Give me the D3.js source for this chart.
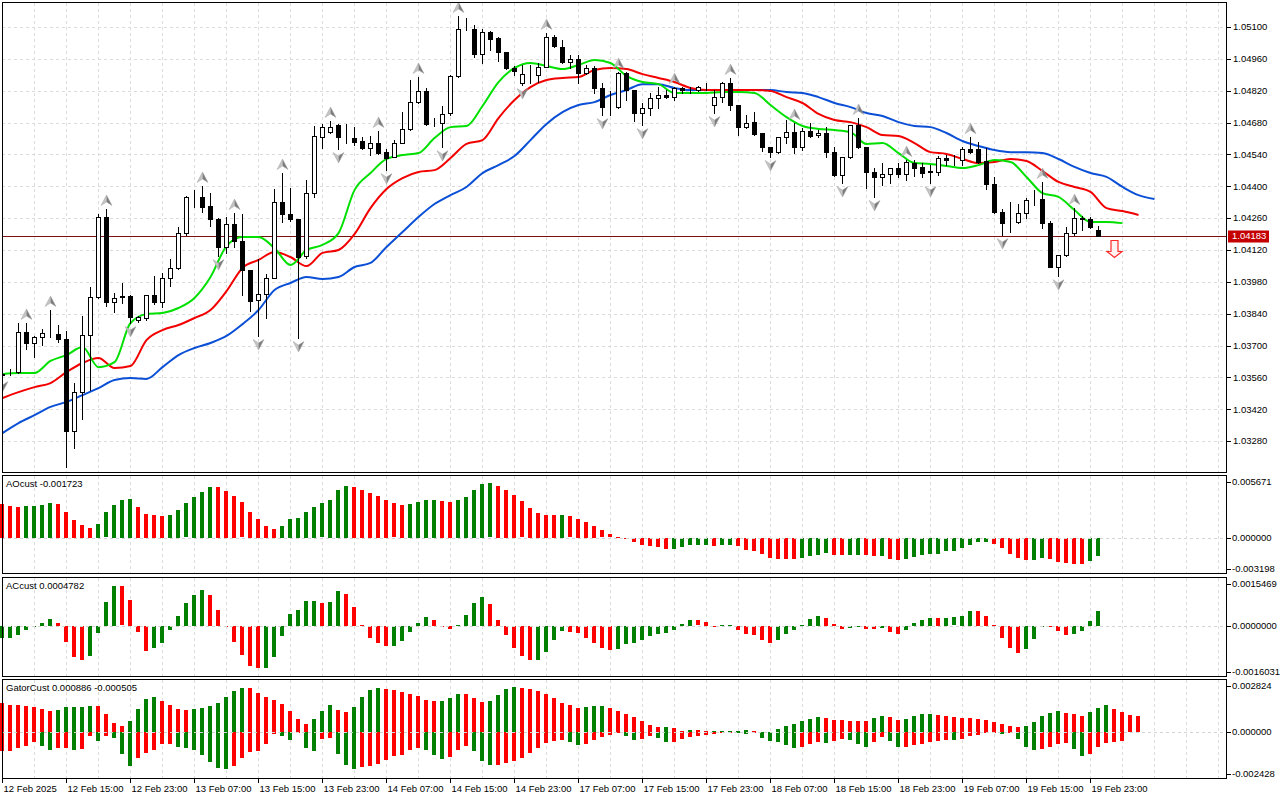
<!DOCTYPE html>
<html>
<head>
<meta charset="utf-8">
<script src="https://cdn.jsdelivr.net/npm/d3@7"></script>
<style>
  body { margin: 0; background: #fff; }
  svg { display: block; font-family: "Liberation Sans", Arial, sans-serif; font-size: 9.5px; }
</style>
</head>
<body>
<div id="chart"></div>
<script>
// ---- price data (H1 bars, 12 Feb 07:00 .. 20 Feb 00:00) ----
const opens = [1.03570,1.03580,1.03583,1.03759,1.03711,1.03737,1.03755,1.03750,1.03728,1.03324,
1.03495,1.03746,1.03913,1.04265,1.03891,1.03913,1.03918,1.03812,1.03821,1.03922,
1.03891,1.03997,1.04041,1.04194,1.04353,1.04353,1.04313,1.04256,1.04133,1.04234,
1.04159,1.04032,1.03900,1.03926,1.03997,1.04331,1.04278,1.04256,1.04093,1.04370,
1.04616,1.04638,1.04669,1.04616,1.04612,1.04599,1.04568,1.04590,1.04550,1.04529,
1.04590,1.04652,1.04770,1.04819,1.04678,1.04678,1.04722,1.04885,1.05091,1.05091,
1.04981,1.05078,1.05052,1.04990,1.04920,1.04854,1.04889,1.04889,1.04924,1.05056,
1.05012,1.04946,1.04959,1.04898,1.04920,1.04832,1.04748,1.04748,1.04898,1.04823,
1.04722,1.04744,1.04788,1.04801,1.04792,1.04832,1.04823,1.04823,1.04836,1.04757,
1.04792,1.04854,1.04757,1.04660,1.04682,1.04634,1.04572,1.04550,1.04616,1.04638,
1.04572,1.04643,1.04625,1.04634,1.04550,1.04449,1.04529,1.04669,1.04572,1.04463,
1.04441,1.04454,1.04480,1.04454,1.04502,1.04485,1.04463,1.04463,1.04524,1.04515,
1.04515,1.04564,1.04564,1.04511,1.04410,1.04287,1.04243,1.04243,1.04282,1.04344,
1.04344,1.04238,1.04045,1.04098,1.04194,1.04256,1.04256,1.04208];
const highs = [1.03583,1.03596,1.03799,1.03799,1.03742,1.03772,1.03856,1.03790,1.03764,1.03535,
1.03830,1.03957,1.04278,1.04300,1.03931,1.03975,1.03922,1.03830,1.03922,1.04005,
1.04019,1.04080,1.04221,1.04357,1.04383,1.04401,1.04370,1.04260,1.04265,1.04282,
1.04278,1.04032,1.04080,1.04014,1.04388,1.04458,1.04392,1.04256,1.04427,1.04665,
1.04674,1.04687,1.04674,1.04674,1.04660,1.04616,1.04621,1.04643,1.04564,1.04603,
1.04726,1.04867,1.04880,1.04832,1.04700,1.04753,1.04889,1.05148,1.05140,1.05109,
1.05091,1.05082,1.05056,1.04990,1.04929,1.04933,1.04933,1.04942,1.05074,1.05065,
1.05043,1.04977,1.04977,1.04933,1.04929,1.04854,1.04819,1.04902,1.04902,1.04823,
1.04766,1.04810,1.04836,1.04823,1.04836,1.04836,1.04836,1.04841,1.04854,1.04823,
1.04858,1.04876,1.04757,1.04713,1.04726,1.04634,1.04572,1.04616,1.04691,1.04678,
1.04656,1.04678,1.04647,1.04660,1.04572,1.04529,1.04669,1.04700,1.04572,1.04480,
1.04502,1.04480,1.04502,1.04515,1.04515,1.04502,1.04493,1.04533,1.04537,1.04537,
1.04572,1.04616,1.04594,1.04568,1.04441,1.04300,1.04331,1.04322,1.04348,1.04383,
1.04419,1.04247,1.04098,1.04221,1.04304,1.04269,1.04265,1.04225];
const lows = [1.03557,1.03570,1.03579,1.03685,1.03649,1.03702,1.03737,1.03715,1.03166,1.03249,
1.03377,1.03504,1.03909,1.03874,1.03847,1.03887,1.03799,1.03803,1.03812,1.03882,
1.03869,1.03961,1.04036,1.04186,1.04309,1.04287,1.04225,1.04093,1.04107,1.04133,
1.03922,1.03852,1.03742,1.03821,1.03997,1.04243,1.04247,1.03733,1.04085,1.04353,
1.04568,1.04634,1.04564,1.04590,1.04581,1.04564,1.04537,1.04542,1.04471,1.04529,
1.04590,1.04647,1.04766,1.04669,1.04665,1.04572,1.04713,1.04880,1.05087,1.04968,
1.04942,1.04999,1.04951,1.04915,1.04889,1.04845,1.04854,1.04858,1.04924,1.05012,
1.04942,1.04920,1.04854,1.04893,1.04810,1.04713,1.04713,1.04744,1.04779,1.04687,
1.04669,1.04713,1.04744,1.04788,1.04779,1.04810,1.04810,1.04819,1.04823,1.04722,
1.04770,1.04735,1.04625,1.04656,1.04625,1.04555,1.04529,1.04546,1.04590,1.04546,
1.04559,1.04616,1.04616,1.04529,1.04445,1.04414,1.04524,1.04568,1.04392,1.04353,
1.04405,1.04414,1.04441,1.04427,1.04445,1.04441,1.04414,1.04449,1.04493,1.04493,
1.04493,1.04546,1.04502,1.04388,1.04282,1.04186,1.04199,1.04238,1.04260,1.04318,
1.04216,1.04045,1.04005,1.04093,1.04186,1.04208,1.04216,1.04181];
const closes = [1.03575,1.03581,1.03759,1.03711,1.03737,1.03755,1.03757,1.03728,1.03324,1.03495,
1.03746,1.03913,1.04265,1.03891,1.03909,1.03916,1.03825,1.03825,1.03922,1.03891,
1.03997,1.04041,1.04194,1.04353,1.04355,1.04309,1.04256,1.04133,1.04234,1.04159,
1.04032,1.03896,1.03926,1.03997,1.04331,1.04278,1.04256,1.04089,1.04370,1.04621,
1.04660,1.04660,1.04616,1.04618,1.04594,1.04568,1.04590,1.04546,1.04524,1.04590,
1.04652,1.04770,1.04819,1.04674,1.04680,1.04718,1.04885,1.05091,1.05093,1.04981,
1.05078,1.05047,1.04990,1.04920,1.04907,1.04893,1.04887,1.04924,1.05056,1.05016,
1.04946,1.04959,1.04898,1.04920,1.04832,1.04748,1.04750,1.04898,1.04823,1.04722,
1.04744,1.04788,1.04801,1.04792,1.04832,1.04823,1.04825,1.04836,1.04838,1.04792,
1.04854,1.04757,1.04660,1.04678,1.04630,1.04572,1.04550,1.04616,1.04638,1.04572,
1.04643,1.04621,1.04634,1.04550,1.04449,1.04529,1.04669,1.04572,1.04463,1.04441,
1.04454,1.04480,1.04454,1.04507,1.04480,1.04458,1.04465,1.04524,1.04515,1.04517,
1.04564,1.04550,1.04507,1.04410,1.04287,1.04238,1.04245,1.04282,1.04339,1.04346,
1.04238,1.04045,1.04098,1.04194,1.04260,1.04260,1.04221,1.04183];

// alligator lines, read every second bar (lips +3, teeth +5, jaw +8 bars shifted)
const lips = [1.03575,1.03579,1.03579,1.03632,1.03658,1.03693,1.03605,1.03627,1.03799,1.03838,
1.03843,1.03865,1.03909,1.04001,1.04137,1.04177,1.04177,1.04128,1.04054,1.04120,
1.04142,1.04194,1.04383,1.04458,1.04520,1.04537,1.04546,1.04612,1.04660,1.04665,
1.04753,1.04858,1.04920,1.04942,1.04929,1.04915,1.04933,1.04955,1.04942,1.04885,
1.04858,1.04849,1.04810,1.04810,1.04810,1.04814,1.04814,1.04810,1.04757,1.04704,
1.04665,1.04652,1.04647,1.04638,1.04586,1.04590,1.04546,1.04502,1.04498,1.04489,
1.04480,1.04493,1.04515,1.04507,1.04441,1.04370,1.04353,1.04296,1.04243,1.04243,
1.04238];
const teeth = [1.03469,1.03495,1.03517,1.03535,1.03583,1.03623,1.03645,1.03601,1.03610,1.03724,
1.03768,1.03790,1.03821,1.03856,1.03939,1.04041,1.04076,1.04111,1.04089,1.04049,
1.04107,1.04120,1.04190,1.04304,1.04388,1.04436,1.04463,1.04471,1.04524,1.04586,
1.04603,1.04700,1.04779,1.04836,1.04867,1.04876,1.04880,1.04911,1.04920,1.04915,
1.04893,1.04876,1.04858,1.04832,1.04823,1.04823,1.04823,1.04823,1.04819,1.04792,
1.04766,1.04718,1.04691,1.04682,1.04660,1.04625,1.04621,1.04590,1.04550,1.04542,
1.04520,1.04502,1.04507,1.04520,1.04511,1.04467,1.04419,1.04397,1.04375,1.04304,
1.04291,1.04274];
const jaw = [1.03315,1.03359,1.03394,1.03430,1.03452,1.03482,1.03513,1.03548,1.03557,1.03553,
1.03605,1.03658,1.03689,1.03711,1.03742,1.03794,1.03856,1.03944,1.03975,1.04001,
1.03992,1.04001,1.04045,1.04063,1.04133,1.04199,1.04265,1.04322,1.04361,1.04397,
1.04458,1.04493,1.04533,1.04603,1.04674,1.04726,1.04757,1.04770,1.04801,1.04823,
1.04849,1.04849,1.04832,1.04823,1.04823,1.04823,1.04823,1.04823,1.04823,1.04814,
1.04810,1.04792,1.04766,1.04748,1.04722,1.04709,1.04682,1.04665,1.04660,1.04634,
1.04599,1.04577,1.04559,1.04550,1.04550,1.04546,1.04520,1.04485,1.04458,1.04441,
1.04397,1.04361,1.04344];

const fractalUp = [3, 6, 13, 25, 29, 35, 41, 47, 52, 57, 68, 77, 84, 91, 99, 107, 113, 121, 130, 134];
const fractalDown = [0, 16, 27, 32, 37, 42, 48, 55, 65, 75, 80, 89, 96, 105, 109, 116, 125, 132];
const sellSignal = { bar: 139, price: 1.04164 };

// ---- oscillators ----
const aoVals = [0.00314,0.00299,0.00290,0.00299,0.00300,0.00308,0.00323,0.00317,0.00243,0.00166,
0.00120,0.00092,0.00129,0.00237,0.00305,0.00354,0.00360,0.00290,0.00222,0.00213,
0.00206,0.00213,0.00262,0.00320,0.00382,0.00431,0.00474,0.00472,0.00437,0.00391,
0.00330,0.00243,0.00176,0.00111,0.00083,0.00114,0.00176,0.00185,0.00243,0.00290,
0.00320,0.00351,0.00444,0.00484,0.00474,0.00447,0.00416,0.00391,0.00354,0.00320,
0.00308,0.00314,0.00333,0.00351,0.00352,0.00342,0.00333,0.00351,0.00385,0.00447,
0.00502,0.00508,0.00484,0.00447,0.00400,0.00339,0.00277,0.00231,0.00216,0.00215,
0.00216,0.00200,0.00176,0.00151,0.00114,0.00068,0.00031,0.00003,-0.00009,-0.00040,
-0.00065,-0.00071,-0.00080,-0.00102,-0.00100,-0.00080,-0.00065,-0.00064,-0.00063,-0.00074,
-0.00065,-0.00064,-0.00077,-0.00108,-0.00123,-0.00148,-0.00188,-0.00194,-0.00195,-0.00200,
-0.00185,-0.00169,-0.00157,-0.00139,-0.00157,-0.00163,-0.00162,-0.00161,-0.00163,-0.00172,
-0.00170,-0.00194,-0.00209,-0.00200,-0.00182,-0.00163,-0.00154,-0.00145,-0.00126,-0.00117,
-0.00089,-0.00062,-0.00034,-0.00033,-0.00052,-0.00089,-0.00145,-0.00191,-0.00209,-0.00208,
-0.00191,-0.00200,-0.00228,-0.00237,-0.00246,-0.00247,-0.00219,-0.00172];
const aoColors = "rrrggggrrr" + "rrgggggrrr" + "rggggggrrr" + "rrrrrggggg" + "ggggrrrrrr" +
  "rggggrrggg" + "ggrrrrrrrr" + "grrrrrrrrr" + "rrrrgggggr" + "ggrrrrrrrr" +
  "ggggrrggrr" + "grrggggggg" + "ggggrrrrrg" + "grrrrrgg";

const acVals = [-0.00039,-0.00039,-0.00028,-0.00012,-0.00004,0.00010,0.00022,0.00009,-0.00052,-0.00101,
-0.00109,-0.00097,-0.00023,0.00077,0.00129,0.00128,0.00083,-0.00019,-0.00081,-0.00071,
-0.00055,-0.00012,0.00032,0.00075,0.00101,0.00116,0.00100,0.00051,-0.00001,-0.00052,
-0.00093,-0.00130,-0.00136,-0.00135,-0.00101,-0.00032,0.00038,0.00051,0.00080,0.00081,
0.00075,0.00077,0.00114,0.00103,0.00062,0.00002,-0.00039,-0.00055,-0.00065,-0.00064,
-0.00049,-0.00019,0.00009,0.00029,0.00018,-0.00002,-0.00009,0.00002,0.00035,0.00075,
0.00094,0.00070,0.00018,-0.00030,-0.00070,-0.00097,-0.00111,-0.00110,-0.00084,-0.00047,
-0.00017,-0.00018,-0.00023,-0.00039,-0.00055,-0.00071,-0.00079,-0.00074,-0.00057,-0.00054,
-0.00044,-0.00032,-0.00025,-0.00024,-0.00012,0.00005,0.00018,0.00017,0.00012,-0.00001,
0.00001,0.00001,-0.00012,-0.00025,-0.00030,-0.00047,-0.00055,-0.00046,-0.00025,-0.00012,
0.00002,0.00022,0.00031,0.00026,0.00005,-0.00009,-0.00008,-0.00002,-0.00009,-0.00009,
-0.00005,-0.00018,-0.00025,-0.00012,0.00010,0.00019,0.00026,0.00026,0.00026,0.00027,
0.00032,0.00049,0.00048,0.00032,0.00002,-0.00038,-0.00070,-0.00087,-0.00074,-0.00041,
-0.00001,-0.00002,-0.00015,-0.00028,-0.00025,-0.00015,0.00016,0.00048];
const acColors = "gggggggrrr" + "rggggrrrrg" + "ggggggrrrr" + "rrrggggggg" + "rggrrrrrrg" +
  "ggggrrrggg" + "grrrrrrggg" + "grrrrrrggg" + "gggggggrrr" + "ggrrrrrggg" +
  "gggrrrggrr" + "grrggggrgg" + "ggrrrrrrgg" + "grrrgggg";

const gatorUp = [0.00157,0.00148,0.00147,0.00143,0.00135,0.00125,0.00114,0.00121,0.00135,0.00136,
0.00137,0.00143,0.00142,0.00099,0.00051,0.00032,0.00060,0.00128,0.00179,0.00190,
0.00168,0.00146,0.00128,0.00121,0.00123,0.00130,0.00143,0.00157,0.00191,0.00222,
0.00238,0.00237,0.00211,0.00191,0.00175,0.00153,0.00114,0.00070,0.00045,0.00070,
0.00114,0.00146,0.00119,0.00108,0.00135,0.00190,0.00227,0.00238,0.00233,0.00227,
0.00217,0.00206,0.00195,0.00173,0.00168,0.00169,0.00184,0.00206,0.00205,0.00184,
0.00162,0.00168,0.00200,0.00233,0.00244,0.00238,0.00233,0.00222,0.00206,0.00184,
0.00157,0.00146,0.00130,0.00135,0.00141,0.00142,0.00130,0.00114,0.00099,0.00081,
0.00060,0.00038,0.00027,0.00028,0.00022,0.00005,0.00011,0.00010,0.00004,0.00006,
0.00007,0.00008,0.00005,0.00011,0.00005,0.00003,0.00002,0.00016,0.00032,0.00043,
0.00060,0.00070,0.00081,0.00076,0.00065,0.00064,0.00063,0.00060,0.00059,0.00076,
0.00087,0.00081,0.00065,0.00070,0.00087,0.00097,0.00098,0.00092,0.00087,0.00081,
0.00076,0.00075,0.00070,0.00065,0.00054,0.00043,0.00032,0.00027,0.00032,0.00054,
0.00087,0.00103,0.00114,0.00103,0.00097,0.00087,0.00108,0.00130,0.00146,0.00125,
0.00108,0.00091,0.00089];
const gatorUpColors = "rrrrrrrggg" + "ggrrrrgggg" + "rrrrgggggg" + "grrrrrrrrg" + "ggrrggggrr" +
  "rrrrrgggrr" + "rggggrrrrr" + "rrrgggrrrr" + "rrrgrrgrrg" + "ggggrrrggg" +
  "gggrrrrrrg" + "grrggggrrr" + "rrrrrrrrgg" + "gggrrrgggr" + "rrr";
const gatorDown = [-0.00105,-0.00101,-0.00087,-0.00074,-0.00056,-0.00074,-0.00096,-0.00085,-0.00084,-0.00096,
-0.00090,-0.00020,-0.00047,-0.00020,-0.00031,-0.00121,-0.00182,-0.00139,-0.00112,-0.00096,
-0.00067,-0.00063,-0.00081,-0.00085,-0.00096,-0.00123,-0.00161,-0.00193,-0.00200,-0.00182,
-0.00139,-0.00106,-0.00101,-0.00067,-0.00011,-0.00023,-0.00042,-0.00007,-0.00085,-0.00101,
-0.00038,-0.00032,-0.00117,-0.00179,-0.00200,-0.00191,-0.00184,-0.00173,-0.00152,-0.00130,
-0.00125,-0.00097,-0.00085,-0.00097,-0.00125,-0.00146,-0.00135,-0.00097,-0.00076,-0.00103,
-0.00157,-0.00179,-0.00178,-0.00166,-0.00157,-0.00141,-0.00114,-0.00087,-0.00060,-0.00049,
-0.00043,-0.00054,-0.00070,-0.00063,-0.00043,-0.00027,-0.00016,-0.00005,-0.00022,-0.00043,
-0.00038,-0.00022,-0.00032,-0.00054,-0.00053,-0.00038,-0.00027,-0.00022,-0.00016,-0.00009,
-0.00004,-0.00002,-0.00005,-0.00011,-0.00004,-0.00032,-0.00049,-0.00054,-0.00070,-0.00087,
-0.00081,-0.00065,-0.00054,-0.00060,-0.00049,-0.00038,-0.00043,-0.00065,-0.00081,-0.00054,
-0.00027,-0.00049,-0.00081,-0.00080,-0.00070,-0.00065,-0.00054,-0.00049,-0.00043,-0.00044,
-0.00038,-0.00022,-0.00016,-0.00005,-0.00002,-0.00011,-0.00005,-0.00038,-0.00081,-0.00097,
-0.00092,-0.00081,-0.00065,-0.00060,-0.00092,-0.00130,-0.00119,-0.00081,-0.00060,-0.00054,
-0.00050];
const gatorDownColors = "rrrrrggrrg" + "rrgrgggrrr" + "rrgggggggr" + "rrrrrggrgg" + "rrgggrrrrr" +
  "rrrgggrrrg" + "ggrrrrrrrr" + "rggrrrrrgg" + "rrggrrrrrr" + "rrggrggggg" +
  "rrrgrrgggr" + "rggrrrrrrg" + "rrrrrgrggg" + "rrrrggrrrr" + "r";

// ---- axes / labels ----
const priceTicks = [1.05100,1.04960,1.04820,1.04680,1.04540,1.04400,1.04260,1.04120,1.03980,1.03840,1.03700,1.03560,1.03420,1.03280];
const priceRange = [1.03144, 1.05210];
const aoRange = [-0.003198, 0.005671];
const acRange = [-0.0016031, 0.0015469];
const gatorRange = [-0.002428, 0.002824];
const aoTicks = ["0.005671", "0.000000", "-0.003198"];
const acTicks = ["0.0015469", "0.0000000", "-0.0016031"];
const gatorTicks = ["0.002824", "0.000000", "-0.002428"];
const aoTitle = "AOcust -0.001723";
const acTitle = "ACcust 0.0004782";
const gatorTitle = "GatorCust 0.000886 -0.000505";
const timeLabels = ["12 Feb 2025","12 Feb 15:00","12 Feb 23:00","13 Feb 07:00","13 Feb 15:00","13 Feb 23:00",
  "14 Feb 07:00","14 Feb 15:00","14 Feb 23:00","17 Feb 07:00","17 Feb 15:00","17 Feb 23:00",
  "18 Feb 07:00","18 Feb 15:00","18 Feb 23:00","19 Feb 07:00","19 Feb 15:00","19 Feb 23:00"];
const timeBars = d3.range(0, 137, 8);

// ---- layout ----
const W = 1280, H = 800;
const plotL = 2, plotR = 1227;
const panels = {
  main:  { top: 2,   bottom: 472 },
  ao:    { top: 475, bottom: 573 },
  ac:    { top: 577, bottom: 676 },
  gator: { top: 679, bottom: 778 }
};
const green = "#008000", red = "#ff0000";
const gridColor = "#dcdcdc";

const x = d3.scaleLinear().domain([0, 153]).range([2.5, 2.5 + 153 * 8]);
const yMain = d3.scaleLinear().domain(priceRange).range([panels.main.bottom, panels.main.top]);
const yAO = d3.scaleLinear().domain(aoRange).range([panels.ao.bottom - 1, panels.ao.top + 2]);
const yAC = d3.scaleLinear().domain(acRange).range([panels.ac.bottom - 1, panels.ac.top + 1]);
const yGator = d3.scaleLinear().domain(gatorRange).range([panels.gator.bottom - 1, panels.gator.top + 1]);

const svg = d3.select("#chart").append("svg")
  .attr("width", W)
  .attr("height", H);

svg.append("rect").attr("width", W).attr("height", H).attr("fill", "#fff");

const px = v => Math.round(v) + 0.5;
const gridBars = d3.range(4, 153, 4);

function drawGrid(p) {
  svg.append("g").selectAll("line").data(gridBars).join("line")
    .attr("x1", d => x(d)).attr("x2", d => x(d))
    .attr("y1", p.top + 1).attr("y2", p.bottom)
    .attr("stroke", gridColor)
    .attr("stroke-dasharray", "3,3");
}

// ---- main panel ----
svg.append("clipPath").attr("id", "clipMain")
  .append("rect")
  .attr("x", plotL + 1).attr("y", panels.main.top + 1)
  .attr("width", plotR - plotL - 1).attr("height", panels.main.bottom - panels.main.top - 1);

drawGrid(panels.main);
svg.append("g").selectAll("line").data(priceTicks).join("line")
  .attr("x1", plotL).attr("x2", plotR)
  .attr("y1", d => px(yMain(d))).attr("y2", d => px(yMain(d)))
  .attr("stroke", gridColor)
  .attr("stroke-dasharray", "3,3");

const main = svg.append("g").attr("clip-path", "url(#clipMain)");

// current price line
const lastClose = closes[closes.length - 1];
main.append("line")
  .attr("x1", plotL).attr("x2", plotR)
  .attr("y1", px(yMain(lastClose))).attr("y2", px(yMain(lastClose)))
  .attr("stroke", "#7a1010");

// alligator
function lineData(vals) {
  return vals.map((v, k) => [k * 2, v]);
}
const lineGen = d3.line()
  .x(d => x(d[0]))
  .y(d => yMain(d[1]))
  .curve(d3.curveMonotoneX);

[[jaw, "#0a4fd6"], [teeth, "#f20000"], [lips, "#00e000"]].forEach(([vals, col]) => {
  main.append("path")
    .datum(lineData(vals))
    .attr("d", lineGen)
    .attr("fill", "none")
    .attr("stroke", col)
    .attr("stroke-width", 2)
    .attr("stroke-linejoin", "round");
});

// candles
const candles = opens.map((o, i) => ({ i, o, h: highs[i], l: lows[i], c: closes[i] }));
const cg = main.append("g");
cg.selectAll("line").data(candles).join("line")
  .attr("x1", d => x(d.i)).attr("x2", d => x(d.i))
  .attr("y1", d => Math.round(yMain(d.h))).attr("y2", d => Math.round(yMain(d.l)) + 1)
  .attr("stroke", "#000");
cg.selectAll("rect").data(candles).join("rect")
  .attr("x", d => x(d.i) - 2)
  .attr("width", 4)
  .attr("y", d => px(yMain(Math.max(d.o, d.c))))
  .attr("height", d => Math.max(0, Math.round(yMain(Math.min(d.o, d.c))) - Math.round(yMain(Math.max(d.o, d.c)))))
  .attr("fill", d => d.c < d.o ? "#000" : "#fff")
  .attr("stroke", "#000");

// fractals
function fractal(g, i, up) {
  const cx = x(i);
  const cy = up ? yMain(highs[i]) - 9 : yMain(lows[i]) + 9;
  const s = up ? 1 : -1;
  const fg = g.append("g").attr("transform", `translate(${cx},${cy}) scale(1,${s})`);
  fg.append("path").attr("d", "M0,-5 L0,2 L-5.5,5.5 Z").attr("fill", "#c4c4c4");
  fg.append("path").attr("d", "M0,-5 L5.5,5.5 L0,2 Z").attr("fill", "#7d7d7d");
  fg.append("path").attr("d", "M0,-5 L5.5,5.5 L0,2 L-5.5,5.5 Z")
    .attr("fill", "none").attr("stroke", "#9a9a9a").attr("stroke-width", 0.4);
}
const fgAll = main.append("g");
fractalUp.forEach(i => fractal(fgAll, i, true));
fractalDown.forEach(i => fractal(fgAll, i, false));

// sell signal arrow
{
  const sx = x(sellSignal.bar), sy = Math.round(yMain(sellSignal.price)) + 0.5;
  main.append("path")
    .attr("d", `M${sx - 3.5},${sy} L${sx + 3.5},${sy} L${sx + 3.5},${sy + 11} L${sx + 7.5},${sy + 11} L${sx},${sy + 17} L${sx - 7.5},${sy + 11} L${sx - 3.5},${sy + 11} Z`)
    .attr("fill", "#fff2f2")
    .attr("stroke", "#ff2a2a")
    .attr("stroke-width", 1.2);
}

// price axis
svg.append("g").selectAll("line").data(priceTicks).join("line")
  .attr("x1", plotR).attr("x2", plotR + 4)
  .attr("y1", d => px(yMain(d))).attr("y2", d => px(yMain(d)))
  .attr("stroke", "#000");
svg.append("g").selectAll("text").data(priceTicks).join("text")
  .attr("x", plotR + 6)
  .attr("y", d => yMain(d))
  .attr("dy", "0.35em")
  .attr("fill", "#000")
  .text(d => d.toFixed(5));

svg.append("rect")
  .attr("x", plotR + 1).attr("y", Math.round(yMain(lastClose)) - 5.5)
  .attr("width", 41).attr("height", 12)
  .attr("fill", "#c40000");
svg.append("text")
  .attr("x", plotR + 5).attr("y", yMain(lastClose) + 0.5)
  .attr("dy", "0.35em")
  .attr("fill", "#fff")
  .text(lastClose.toFixed(5));

// ---- indicator panels ----
function histogram(vals, cols, y) {
  svg.append("g").selectAll("rect").data(vals).join("rect")
    .attr("x", (d, i) => x(i) - 2.5)
    .attr("width", 4)
    .attr("y", d => Math.round(y(Math.max(0, d))))
    .attr("height", d => Math.max(1, Math.round(Math.abs(y(d) - y(0)))))
    .attr("fill", (d, i) => cols[i] === "g" ? green : red)
    .attr("shape-rendering", "crispEdges");
}

function indicatorPanel(p, y, tickLabels, title, series) {
  drawGrid(p);
  series.forEach(s => histogram(s[0], s[1], y));
  svg.append("line")
    .attr("x1", plotL).attr("x2", plotR)
    .attr("y1", px(y(0))).attr("y2", px(y(0)))
    .attr("stroke", "#d4d4d4")
    .attr("stroke-dasharray", "3,3");
  const ys = [p.top + 6.5, y(0), p.bottom - 4];
  ys.forEach((yy, k) => {
    svg.append("line")
      .attr("x1", plotR).attr("x2", plotR + 4)
      .attr("y1", px(yy)).attr("y2", px(yy))
      .attr("stroke", "#000");
    svg.append("text")
      .attr("x", plotR + 5).attr("y", yy)
      .attr("dy", "0.35em")
      .text(tickLabels[k]);
  });
  svg.append("text")
    .attr("x", 6).attr("y", p.top + 9)
    .attr("dy", "0.35em")
    .text(title);
}

indicatorPanel(panels.ao, yAO, aoTicks, aoTitle, [[aoVals, aoColors]]);
indicatorPanel(panels.ac, yAC, acTicks, acTitle, [[acVals, acColors]]);
indicatorPanel(panels.gator, yGator, gatorTicks, gatorTitle,
  [[gatorUp, gatorUpColors], [gatorDown, gatorDownColors]]);

// panel borders
Object.values(panels).forEach(p => {
  svg.append("rect")
    .attr("x", plotL + 0.5).attr("y", p.top + 0.5)
    .attr("width", plotR - plotL - 1).attr("height", p.bottom - p.top)
    .attr("fill", "none")
    .attr("stroke", "#000");
});

// time axis
svg.append("g").selectAll("line").data(timeBars).join("line")
  .attr("x1", d => x(d)).attr("x2", d => x(d))
  .attr("y1", panels.gator.bottom).attr("y2", panels.gator.bottom + 5)
  .attr("stroke", "#000");
svg.append("g").selectAll("text").data(timeBars).join("text")
  .attr("x", d => x(d) + 1)
  .attr("y", 792)
  .text((d, k) => timeLabels[k]);
</script>
</body>
</html>
